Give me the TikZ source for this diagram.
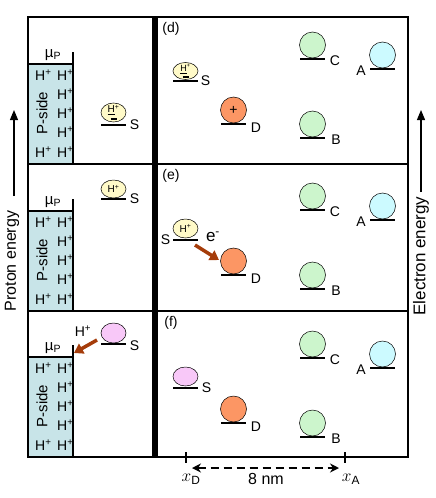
\documentclass[tikz,border=0pt]{standalone}
\usepackage{fontspec}
\setmainfont{Liberation Sans}
\usetikzlibrary{arrows.meta,shapes.geometric}

\definecolor{psidefill}{RGB}{200,228,232}
\definecolor{ionyellow}{RGB}{255,250,200}
\definecolor{ionpink}{RGB}{248,200,248}
\definecolor{orbgreen}{RGB}{204,245,204}
\definecolor{orbcyan}{RGB}{204,250,255}
\definecolor{orborange}{RGB}{252,150,100}
\definecolor{pushbrown}{RGB}{165,60,10}

\begin{document}
\begin{tikzpicture}[x=1pt,y=-1pt,
    lvl/.style={line width=1.6pt},
    orb/.style={draw, circle, line width=0.5pt, minimum size=26pt, inner sep=0pt},
    ion/.style={draw, ellipse, line width=0.5pt, minimum width=25pt, minimum height=18pt, inner sep=0pt},
    tiny/.style={inner sep=0pt, align=center, font=\fontsize{10}{10}\selectfont},
    lab/.style={inner sep=0pt, font=\fontsize{14}{14}\selectfont},
    push/.style={draw=pushbrown, line width=3.5pt, -{Triangle[length=9pt,width=11pt]}},
    axisarrow/.style={line width=1.2pt, -{Triangle[length=10pt,width=8pt]}}]

	\useasboundingbox (0,0) rectangle (436,498);

	\foreach \ytop/\ybot/\p in {64/164/d, 211/311/e, 357/457/f}{
		\fill[psidefill] (28,\ytop) rectangle (73,\ybot);
		\draw[line width=1.2pt] (28,\ytop) -- (73,\ytop);
		\draw[line width=1.2pt] (73,\ytop-12) -- (73,\ybot);
		\node[lab, font=\fontsize{15}{15}\selectfont] (mu\p) at (53,\ytop-9) {µ\textsubscript{P}};
		\node[lab, anchor=west] (hl1\p) at (35,\ytop+11) {H\textsuperscript{+}};
		\node[lab, anchor=west] (hl5\p) at (35,\ytop+88) {H\textsuperscript{+}};
		\foreach \dy [count=\k] in {11,30,49,68,88}
			\node[lab, anchor=west] (hr\k\p) at (57,\ytop+\dy) {H\textsuperscript{+}};
		\node[lab, rotate=90, font=\fontsize{15}{15}\selectfont] (pside\p) at (42,\ytop+49) {P-side};
	}

	\draw[line width=1.6pt] (28,17) rectangle (408,457);
	\draw[line width=1.6pt] (28,164) -- (408,164) (28,311) -- (408,311);
	\draw[line width=6pt] (154.5,17) -- (154.5,457);

	\node[lab] (pd) at (171,29) {(d)};
	\node[lab] (pe) at (171,175.5) {(e)};
	\node[lab] (pf) at (171,322.5) {(f)};

	\foreach \o/\p in {0/d,151/e,299/f}{
		\draw[lvl] (300,59+\o) -- (325,59+\o);
		\node[orb, fill=orbgreen] (C\p) at (312.5,45+\o) {};
		\node[lab] (Cl\p) at (335,61+\o) {C};
		\draw[lvl] (370,69+\o) -- (395,69+\o);
		\node[orb, fill=orbcyan] (A\p) at (382.5,55+\o) {};
		\node[lab] (Al\p) at (361,71+\o) {A};
		\draw[lvl] (300,138+\o) -- (325,138+\o);
		\node[orb, fill=orbgreen] (B\p) at (312.5,124+\o) {};
		\node[lab] (Bl\p) at (336,140+\o) {B};
		\draw[lvl] (221,124+\o) -- (246,124+\o);
		\node[orb, fill=orborange] (D\p) at (233.5,110+\o) {};
		\node[lab] (Dl\p) at (256,128+\o) {D};
	}
	\node[lab] (hole) at (Dd) {+};

	% left column, proton side
	\draw[lvl] (101,125) -- (126,125) node[lab, right=3pt] (Sld) {S};
	\node[ion, minimum height=19pt, fill=ionyellow] (ionld) at (113.5,112.5) {};
	\node[tiny] (hld) at (ionld) {\underline{H}\textsuperscript{+}\\[-3pt]\rule{6pt}{1.6pt}};

	\draw[lvl] (101,199) -- (126,199) node[lab, right=3pt] (Sle) {S};
	\node[ion, fill=ionyellow] (ionle) at (113.5,189) {};
	\node[tiny] (hle) at (ionle) {H\textsuperscript{+}};

	\draw[lvl] (101,344) -- (126,344) node[lab, right=3pt, yshift=-2pt] (Slf) {S};
	\node[ion, minimum height=20pt, fill=ionpink] (ionlf) at (113.5,333) {};
	\node[lab] (hplf) at (83,331) {H\textsuperscript{+}};
	\coordinate (pushlf) at (97,340);
	\coordinate (tiplf) at (74,353);
	\draw[push] (pushlf) -- (tiplf);

	% right column, electron side
	\draw[lvl] (173,81) -- (198,81) node[lab, right=2pt] (Srd) {S};
	\node[ion, minimum height=17pt, fill=ionyellow] (ionrd) at (185.5,71) {};
	\node[tiny, font=\fontsize{9}{9}\selectfont] (hrd) at (ionrd) {\underline{H}\textsuperscript{+}\\[-3pt]\rule{6pt}{1.6pt}};

	\draw[lvl] (198,240) -- (173,240) node[lab, left=2pt] (Sre) {S};
	\node[ion, minimum height=19pt, fill=ionyellow] (ionre) at (185.5,228.5) {};
	\node[tiny] (hre) at (ionre) {H\textsuperscript{+}};
	\node[lab, font=\fontsize{17}{17}\selectfont] (elec) at (213,237) {e\textsuperscript{-}};
	\coordinate (pushre) at (195,245);
	\coordinate (tipre) at (219,260);
	\draw[push] (pushre) -- (tipre);

	\draw[lvl] (173,388) -- (198,388) node[lab, right=3pt] (Srf) {S};
	\node[ion, minimum height=19pt, fill=ionpink] (ionrf) at (185.5,376.5) {};

	% energy axes
	\coordinate (pbase) at (14,196);
	\coordinate (ptip) at (14,110);
	\draw[axisarrow] (pbase) -- (ptip);
	\node[lab, rotate=90, font=\fontsize{16}{16}\selectfont] (ptext) at (12,261) {Proton energy};
	\coordinate (ebase) at (421,192);
	\coordinate (etip) at (421,110);
	\draw[axisarrow] (ebase) -- (etip);
	\node[lab, rotate=90, font=\fontsize{17}{17}\selectfont] (etext) at (421,256) {Electron energy};

	% distance D to A
	\draw[line width=1.2pt] (186,452) coordinate (tD) -- (186,463);
	\draw[line width=1.2pt] (345,452) coordinate (tA) -- (345,463);
	\coordinate (xDa) at (192,468);
	\coordinate (xAa) at (339,468);
	\draw[line width=1.6pt, dash pattern=on 8pt off 5pt, {Stealth[length=9pt,width=9pt]}-{Stealth[length=9pt,width=9pt]}] (xDa) -- (xAa);
	\node[lab, font=\fontsize{17}{17}\selectfont] (xD) at (191,479) {$x$\textsubscript{D}};
	\node[lab, font=\fontsize{17}{17}\selectfont] (xA) at (351,479) {$x$\textsubscript{A}};
	\node[lab, font=\fontsize{16}{16}\selectfont] (dist) at (266,479) {8 nm};
\end{tikzpicture}
\end{document}
